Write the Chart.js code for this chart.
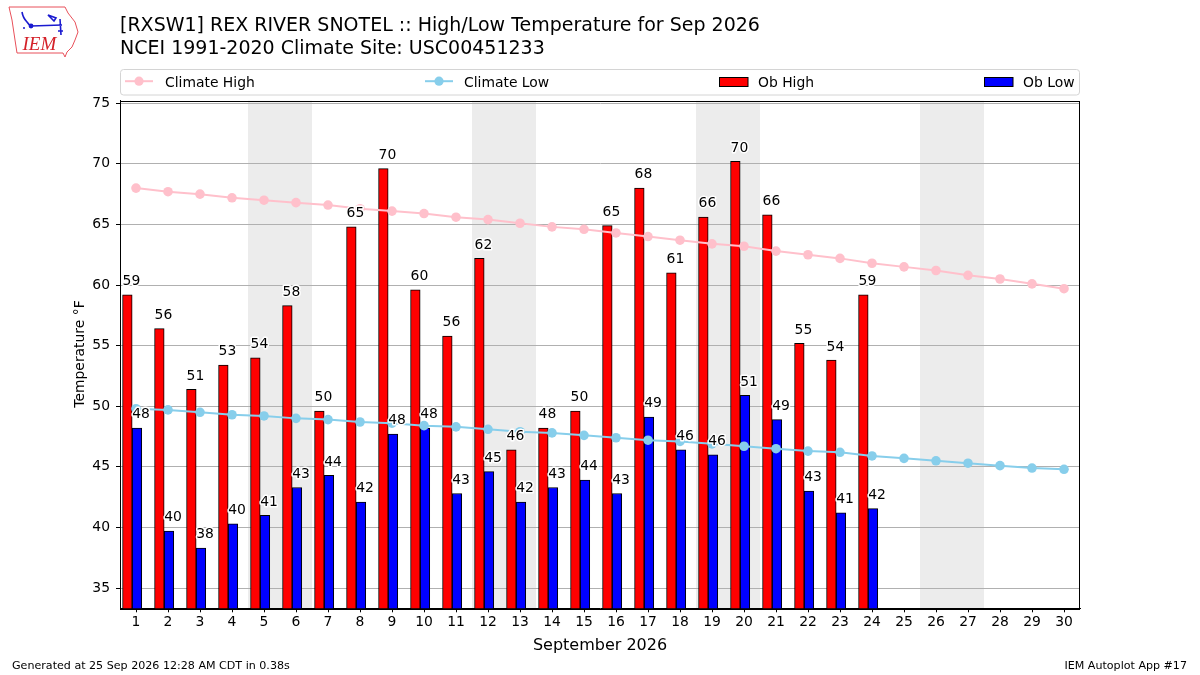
<!DOCTYPE html>
<html>
<head>
<meta charset="utf-8">
<script src="https://cdn.jsdelivr.net/npm/chart.js"></script>
<style>
  body { margin: 0; padding: 0; background: #fff; }
  #wrap { position: relative; width: 1200px; height: 675px; }
  #chart { position: absolute; left: 0; top: 0; }
  #overlay { position: absolute; left: 0; top: 0; pointer-events: none; }
  #overlay text { font-family: "DejaVu Sans"; fill: #000; }
</style>
</head>
<body>
<div id="wrap">
  <canvas id="chart" width="1200" height="675"></canvas>
  <svg id="overlay" width="1200" height="675" xmlns="http://www.w3.org/2000/svg">
    <!-- IEM logo, rough -->
    <path d="M9 7 L65 7 L68 13 L75 22 L78 32 L75 40 L72 47 L67 52 L65 57 L63 53 L17 53 L15 40 L12 20 Z" fill="none" stroke="#e8505a" stroke-width="1"/>
    <path d="M22 12 Q23 18 27 22 Q29 25 31 26 L62 25 M48 15 L56 18 L54 21 Z M60 19 L61 35 M58 31 L63 31" fill="none" stroke="#1a1ad0" stroke-width="1.6"/>
    <circle cx="31" cy="26" r="2.4" fill="#1a1ad0"/>
    <circle cx="24" cy="28" r="1" fill="#1a1ad0"/>
    <text x="22.5" y="50" style="font-family:'Liberation Serif';font-style:italic;font-size:19px;fill:#d42028">IEM</text>

    <text x="120" y="30.7" style="font-size:19px">[RXSW1] REX RIVER SNOTEL :: High/Low Temperature for Sep 2026</text>
    <text x="120" y="54" style="font-size:19px">NCEI 1991-2020 Climate Site: USC00451233</text>

    <!-- legend -->
    <rect x="120.5" y="69.5" width="959" height="25.5" rx="3" fill="#fff" stroke="#d4d4d4" stroke-width="1"/>
    <line x1="125" y1="81.2" x2="153" y2="81.2" stroke="pink" stroke-width="2"/>
    <circle cx="139" cy="81.2" r="4.6" fill="pink"/>
    <text x="165" y="86.5" style="font-size:13.9px">Climate High</text>
    <line x1="425" y1="81.2" x2="453" y2="81.2" stroke="skyblue" stroke-width="2"/>
    <circle cx="439" cy="81.2" r="4.6" fill="skyblue"/>
    <text x="464" y="86.5" style="font-size:13.9px">Climate Low</text>
    <rect x="719.5" y="77.5" width="28.5" height="9" fill="red" stroke="#000" stroke-width="1"/>
    <text x="758" y="86.5" style="font-size:13.9px">Ob High</text>
    <rect x="984.5" y="77.5" width="28.5" height="9" fill="blue" stroke="#000" stroke-width="1"/>
    <text x="1023" y="86.5" style="font-size:13.9px">Ob Low</text>

    <!-- axis titles -->
    <text x="83.5" y="354" transform="rotate(-90 83.5 354)" text-anchor="middle" style="font-size:13.9px">Temperature °F</text>
    <text x="600" y="650" text-anchor="middle" style="font-size:16px">September 2026</text>

    <!-- footer -->
    <text x="12" y="668.5" style="font-size:11.1px">Generated at 25 Sep 2026 12:28 AM CDT in 0.38s</text>
    <text x="1187" y="668.5" text-anchor="end" style="font-size:11.1px">IEM Autoplot App #17</text>
  </svg>
</div>
<script>
// days of the month
const days = [1, 2, 3, 4, 5, 6, 7, 8, 9, 10, 11, 12, 13, 14, 15, 16, 17, 18, 19, 20,
              21, 22, 23, 24, 25, 26, 27, 28, 29, 30];

// observed highs / lows (days 1-24)
const obHigh = [59.2, 56.4, 51.4, 53.4, 54.0, 58.3, 49.6, 64.8, 69.6, 59.6, 55.8, 62.2,
                46.4, 48.2, 49.6, 64.9, 68.0, 61.0, 65.6, 70.2, 65.8, 55.2, 53.8, 59.2];
const obLow = [48.2, 39.7, 38.3, 40.3, 41.0, 43.3, 44.3, 42.1, 47.7, 48.2, 42.8, 44.6,
               42.1, 43.3, 43.9, 42.8, 49.1, 46.4, 46.0, 50.9, 48.9, 43.0, 41.2, 41.55];

// NCEI 1991-2020 climatology
const climHigh = [68.0, 67.7, 67.5, 67.2, 67.0, 66.8, 66.6, 66.3, 66.1, 65.9, 65.6, 65.4,
                  65.1, 64.8, 64.6, 64.3, 64.0, 63.7, 63.4, 63.2, 62.8, 62.5, 62.2, 61.8,
                  61.5, 61.2, 60.8, 60.5, 60.1, 59.7];
const climLow = [49.8, 49.7, 49.5, 49.3, 49.2, 49.0, 48.9, 48.7, 48.6, 48.4, 48.3, 48.1,
                 47.9, 47.8, 47.6, 47.4, 47.2, 47.1, 46.9, 46.7, 46.5, 46.3, 46.2, 45.9,
                 45.7, 45.5, 45.3, 45.1, 44.9, 44.8];

const yTicks = [35, 40, 45, 50, 55, 60, 65, 70, 75];

// bar placement relative to the day tick
const HIGH_SHIFT = -0.27;
const LOW_SHIFT = 0.03;
const FONT = 'DejaVu Sans';

const isWeekend = d => {
    const wd = new Date(2026, 8, d).getDay();
    return wd === 0 || wd === 6;
};

const weekendShade = {
    id: 'weekendShade',
    beforeDraw(chart) {
        const { ctx, chartArea, scales: { x } } = chart;
        // merge consecutive weekend days into single spans
        const spans = [];
        days.filter(isWeekend).forEach(d => {
            const last = spans[spans.length - 1];
            if (last && last[1] === d - 1) last[1] = d;
            else spans.push([d, d]);
        });
        ctx.save();
        ctx.fillStyle = '#ececec';
        spans.forEach(([a, b]) => {
            const l = x.getPixelForValue(a - 0.5);
            const r = x.getPixelForValue(b + 0.5);
            ctx.fillRect(l, chartArea.top, r - l, chartArea.bottom - chartArea.top);
        });
        ctx.restore();
    }
};

const frameAndLabels = {
    id: 'frameAndLabels',
    afterDatasetsDraw(chart) {
        const { ctx, chartArea, scales: { y } } = chart;
        ctx.save();
        ctx.strokeStyle = '#000';
        ctx.lineWidth = 1;
        ctx.strokeRect(Math.round(chartArea.left) + 0.5, Math.round(chartArea.top) + 0.5,
            Math.round(chartArea.right - chartArea.left) - 1, Math.round(chartArea.bottom - chartArea.top));

        ctx.font = '13.9px "' + FONT + '"';
        ctx.textAlign = 'left';
        ctx.textBaseline = 'alphabetic';
        ctx.lineJoin = 'round';
        [2, 3].forEach(di => {
            const ds = chart.data.datasets[di];
            chart.getDatasetMeta(di).data.forEach((bar, i) => {
                const v = ds.data[i].y;
                const txt = String(Math.round(v));
                const tx = bar.x - bar.width / 2;
                const ty = y.getPixelForValue(v + 0.8);
                ctx.strokeStyle = '#fff';
                ctx.lineWidth = 3;
                ctx.strokeText(txt, tx, ty);
                ctx.fillStyle = '#000';
                ctx.fillText(txt, tx, ty);
            });
        });
        ctx.restore();
    }
};

new Chart(document.getElementById('chart'), {
    type: 'bar',
    data: {
        datasets: [
            {
                type: 'line',
                label: 'Climate High',
                data: days.map((d, i) => ({ x: d, y: climHigh[i] })),
                borderColor: 'pink',
                backgroundColor: 'pink',
                borderWidth: 2,
                pointRadius: 4.8,
                pointBorderWidth: 0,
                order: 0
            },
            {
                type: 'line',
                label: 'Climate Low',
                data: days.map((d, i) => ({ x: d, y: climLow[i] })),
                borderColor: 'skyblue',
                backgroundColor: 'skyblue',
                borderWidth: 2,
                pointRadius: 4.8,
                pointBorderWidth: 0,
                order: 0
            },
            {
                label: 'Ob High',
                data: obHigh.map((v, i) => ({ x: days[i] + HIGH_SHIFT, y: v })),
                backgroundColor: 'red',
                borderColor: '#000',
                borderWidth: 1,
                grouped: false,
                categoryPercentage: 1,
                barPercentage: 1,
                order: 1
            },
            {
                label: 'Ob Low',
                data: obLow.map((v, i) => ({ x: days[i] + LOW_SHIFT, y: v })),
                backgroundColor: 'blue',
                borderColor: '#000',
                borderWidth: 1,
                grouped: false,
                categoryPercentage: 1,
                barPercentage: 1,
                order: 1
            }
        ]
    },
    options: {
        responsive: false,
        animation: false,
        devicePixelRatio: 1,
        layout: { padding: { left: 0, top: 100.7, right: 120, bottom: 0 } },
        plugins: {
            legend: { display: false },
            tooltip: { enabled: false }
        },
        scales: {
            x: {
                type: 'linear',
                min: 0.5,
                max: 30.5,
                offset: false,
                afterBuildTicks: s => { s.ticks = days.map(v => ({ value: v })); },
                afterFit: s => { s.height = 66.7; },
                ticks: {
                    color: '#000',
                    font: { family: FONT, size: 13.9 },
                    padding: 2,
                    maxRotation: 0,
                    autoSkip: false
                },
                grid: { drawOnChartArea: false, offset: false, color: '#000', tickLength: 4 },
                border: { color: '#000' }
            },
            y: {
                min: 33.33,
                max: 75.21,
                afterBuildTicks: s => { s.ticks = yTicks.map(v => ({ value: v })); },
                afterFit: s => { s.width = 120; },
                ticks: {
                    color: '#000',
                    font: { family: FONT, size: 13.9 },
                    padding: 6
                },
                grid: { color: '#b0b0b0', tickColor: '#000', tickLength: 4 },
                border: { color: '#000' }
            }
        }
    },
    plugins: [weekendShade, frameAndLabels]
});
</script>
</body>
</html>
